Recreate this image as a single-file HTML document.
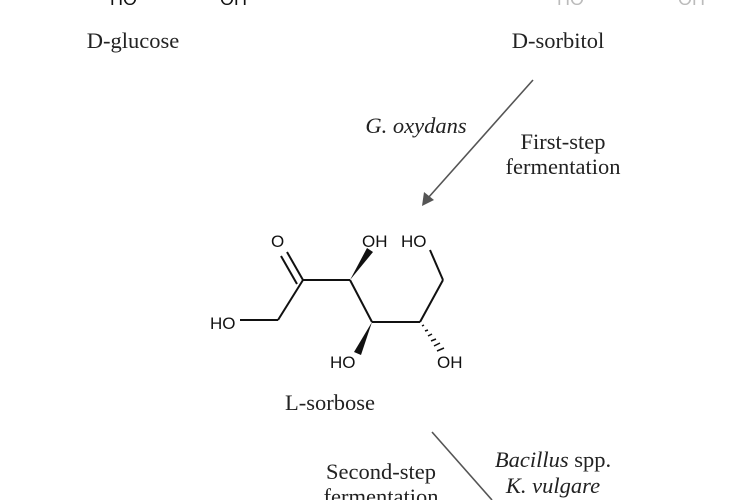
<!DOCTYPE html>
<html><head><meta charset="utf-8"><style>
html,body{margin:0;padding:0;background:#fff;width:750px;height:500px;overflow:hidden}
</style></head><body>
<svg width="750" height="500" viewBox="0 0 750 500" xmlns="http://www.w3.org/2000/svg">
<rect width="750" height="500" fill="#fff"/>
<g font-family="Liberation Sans, sans-serif" font-size="18" fill="#111">
<text x="110" y="5">HO</text><text x="220" y="5">OH</text>
<text x="557" y="5" fill="#bbb">HO</text><text x="678" y="5" fill="#bbb">OH</text>
</g>
<g font-family="Liberation Serif, serif" font-size="22.5" fill="#222" text-anchor="middle">
<text x="133" y="48">D-glucose</text>
<text x="558" y="48">D-sorbitol</text>
<text x="416" y="133" font-style="italic">G. oxydans</text>
<text x="563" y="149">First-step</text>
<text x="563" y="174">fermentation</text>
<text x="330" y="410">L-sorbose</text>
<text x="381" y="479">Second-step</text>
<text x="381" y="504">fermentation</text>
<text x="553" y="467"><tspan font-style="italic">Bacillus</tspan> spp.</text>
<text x="553" y="493" font-style="italic">K. vulgare</text>
</g>
<g stroke="#555" stroke-width="1.6" fill="#555">
<line x1="533" y1="80" x2="428" y2="198"/>
<polygon points="422,206 424,192 434,200" stroke="none"/>
<line x1="432" y1="432" x2="492" y2="500"/>
</g>
<g stroke="#111" stroke-width="2" fill="none">
<line x1="240" y1="320" x2="278" y2="320"/>
<line x1="278" y1="320" x2="303" y2="280"/>
<line x1="303" y1="280" x2="350" y2="280"/>
<line x1="350" y1="280" x2="372" y2="322"/>
<line x1="372" y1="322" x2="420" y2="322"/>
<line x1="420" y1="322" x2="443" y2="280"/>
<line x1="443" y1="280" x2="430" y2="250"/>
<line x1="303" y1="280" x2="287" y2="252"/>
<line x1="297" y1="284" x2="281" y2="256"/>
</g>
<polygon points="350,280 367,248 373,252" fill="#111"/>
<polygon points="372,322 354,352 361,355" fill="#111"/>
<g stroke="#111" stroke-width="1.5">
<line x1="422" y1="326" x2="424" y2="325"/>
<line x1="425" y1="331" x2="428" y2="330"/>
<line x1="428" y1="336" x2="432" y2="334"/>
<line x1="431" y1="341" x2="436" y2="339"/>
<line x1="434" y1="346" x2="440" y2="343"/>
<line x1="437" y1="351" x2="444" y2="348"/>
</g>
<g font-family="Liberation Sans, sans-serif" font-size="17" fill="#111">
<text x="271" y="247">O</text>
<text x="362" y="247">OH</text>
<text x="401" y="247">HO</text>
<text x="210" y="329">HO</text>
<text x="330" y="368">HO</text>
<text x="437" y="368">OH</text>
</g>
</svg>
</body></html>
